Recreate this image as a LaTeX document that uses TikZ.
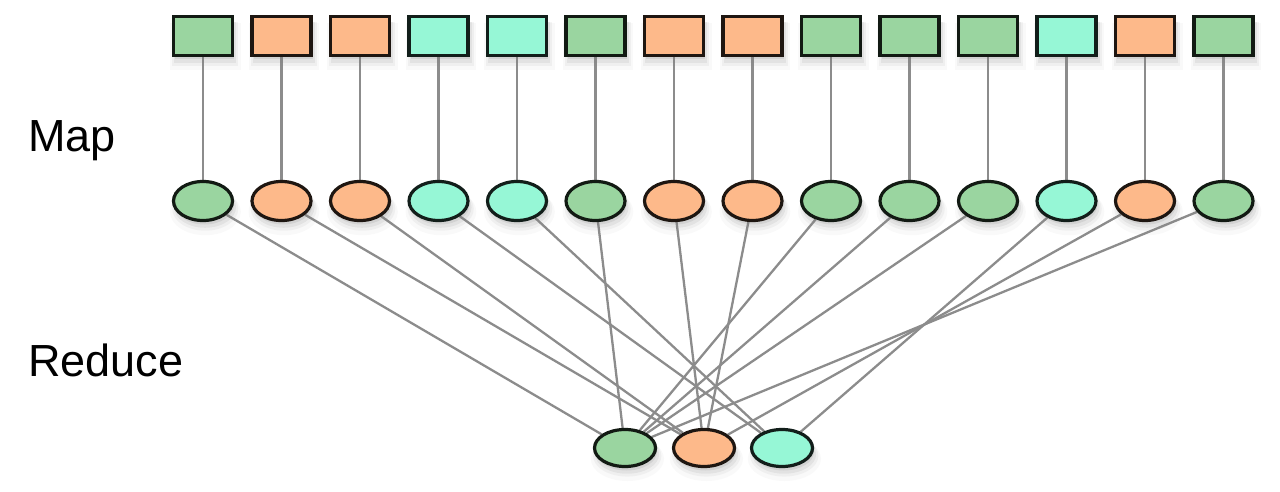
\documentclass[tikz,border=0pt]{standalone}
\usepackage{fontspec}
\setmainfont{Liberation Sans}
\usetikzlibrary{shapes.geometric,shadows}
\definecolor{gfill}{RGB}{154,213,160}
\definecolor{ofill}{RGB}{253,185,138}
\definecolor{cfill}{RGB}{150,247,214}
\definecolor{linkgray}{RGB}{140,140,140}
\pgfdeclarelayer{bg}
\pgfsetlayers{bg,main}
\begin{document}
\begin{tikzpicture}[x=1pt,y=-1pt,
  soft/.style={
    drop shadow={opacity=0.05,shadow xshift=2pt,shadow yshift=-9pt,shadow scale=1.20},
    drop shadow={opacity=0.08,shadow xshift=2pt,shadow yshift=-7pt,shadow scale=1.12},
    drop shadow={opacity=0.12,shadow xshift=2pt,shadow yshift=-6pt,shadow scale=1.05},
    drop shadow={opacity=0.16,shadow xshift=1.5pt,shadow yshift=-4pt}},
  box/.style={rectangle, minimum width=59pt, minimum height=39pt, inner sep=0pt,
    line width=3.2pt, fill=#1, draw=#1!12!black, soft},
  oval/.style={ellipse, minimum width=59pt, minimum height=39pt, inner sep=0pt,
    line width=3.2pt, fill=#1, draw=#1!12!black, soft},
  link/.style={draw=linkgray, line width=2.3pt},
  lbl/.style={font=\fontsize{45}{50}\selectfont, anchor=base west, inner sep=0pt}]
\useasboundingbox (0,0) rectangle (1280,492);

\node[lbl] (maplbl) at (28,152) {Map};
\node[lbl] (redlbl) at (28,376) {Reduce};

\node[oval=gfill, minimum width=61pt, minimum height=37pt] (redg) at (625,448) {};
\node[oval=ofill, minimum width=61pt, minimum height=37pt] (redo) at (704,448) {};
\node[oval=cfill, minimum width=61pt, minimum height=37pt] (redc) at (782,448) {};

\foreach \c [count=\i] in {g,o,o,c,c,g,o,o,g,g,g,c,o,g}{
  \node[box=\c fill] (r\i) at ({203+78.5*(\i-1)},36) {};
  \node[oval=\c fill] (m\i) at ({203+78.5*(\i-1)},201) {};
  \begin{pgfonlayer}{bg}
    \draw[link] (r\i) -- (m\i);
    \draw[link] (m\i) -- (red\c);
  \end{pgfonlayer}
}
\end{tikzpicture}
\end{document}
